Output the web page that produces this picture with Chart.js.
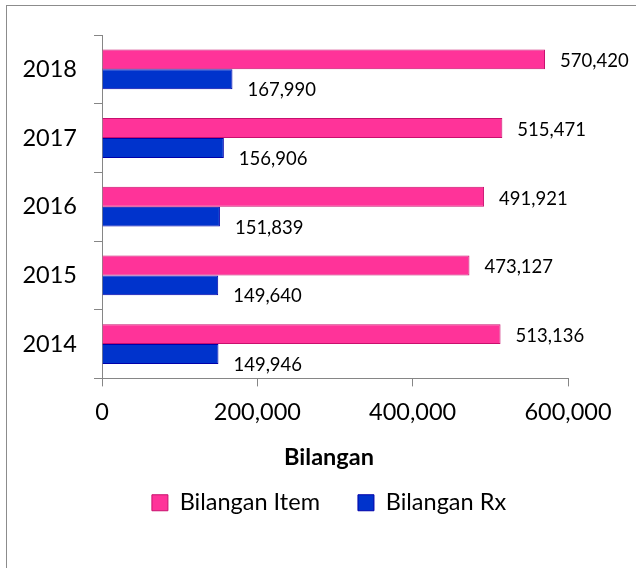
<!DOCTYPE html>
<html>
<head>
<meta charset="utf-8">
<script src="https://cdn.jsdelivr.net/npm/chart.js@4.4.1/dist/chart.umd.min.js"></script>
<style>
  html, body { margin: 0; padding: 0; background: #ffffff; }
  #wrap { position: relative; width: 636px; height: 568px; }
</style>
</head>
<body>
<div id="wrap"><canvas id="c" width="636" height="568"></canvas></div>
<script>
const years = ['2018', '2017', '2016', '2015', '2014'];
const bilanganItem = [570420, 515471, 491921, 473127, 513136];
const bilanganRx = [167990, 156906, 151839, 149640, 149946];
const xTicks = [0, 200000, 400000, 600000];
const seriesNames = ['Bilangan Item', 'Bilangan Rx'];
const axisTitle = 'Bilangan';

const FONT = 'Lato';
const fmt = v => Number(v).toLocaleString('en-US');

const borderPlugin = {
  id: 'chartBorder',
  beforeDraw(chart) {
    const ctx = chart.ctx;
    ctx.save();
    ctx.fillStyle = '#ffffff';
    ctx.fillRect(0, 0, chart.width, chart.height);
    ctx.strokeStyle = '#8c8c8c';
    ctx.lineWidth = 1;
    ctx.strokeRect(6.5, 5.5, chart.width + 50, chart.height + 50);
    ctx.restore();
  }
};

const valueLabelPlugin = {
  id: 'valueLabels',
  afterDatasetsDraw(chart) {
    const ctx = chart.ctx;
    ctx.save();
    ctx.font = '18.5px ' + FONT;
    ctx.fillStyle = '#000000';
    ctx.textAlign = 'left';
    ctx.textBaseline = 'middle';
    chart.data.datasets.forEach((ds, di) => {
      const meta = chart.getDatasetMeta(di);
      meta.data.forEach((bar, i) => {
        const dy = di === 0 ? 2 : 11;
        ctx.fillText(fmt(ds.data[i]), bar.x + 15, bar.y + dy);
      });
    });
    ctx.restore();
  }
};

const axisColor = '#868686';

new Chart(document.getElementById('c'), {
  type: 'bar',
  data: {
    labels: years,
    datasets: [
      {
        label: seriesNames[0],
        data: bilanganItem,
        backgroundColor: '#FF3399',
        borderColor: '#C8106E',
        borderWidth: 1,
        categoryPercentage: 0.58,
        barPercentage: 1.0
      },
      {
        label: seriesNames[1],
        data: bilanganRx,
        backgroundColor: '#0033CC',
        borderColor: '#0000AA',
        borderWidth: 1,
        categoryPercentage: 0.58,
        barPercentage: 1.0
      }
    ]
  },
  options: {
    indexAxis: 'y',
    responsive: false,
    animation: false,
    devicePixelRatio: 1,
    layout: { padding: { left: 22, right: 0, top: 35, bottom: 43.5 } },
    scales: {
      x: {
        type: 'linear',
        min: 0,
        max: 600000,
        afterBuildTicks(scale) { scale.ticks = xTicks.map(v => ({ value: v })); },
        ticks: {
          font: { family: FONT, size: 23.5 },
          color: '#000000',
          padding: 12,
          maxRotation: 0,
          callback: v => fmt(v)
        },
        grid: { drawOnChartArea: false, drawTicks: true, tickLength: 8, color: axisColor },
        border: { display: true, color: axisColor }
      },
      y: {
        type: 'category',
        position: 'left',
        afterFit(scale) { scale.width = 80; },
        ticks: {
          font: { family: FONT, size: 23.5 },
          color: '#000000',
          padding: 17
        },
        grid: { drawOnChartArea: false, drawTicks: true, tickLength: 8, color: axisColor, offset: true },
        border: { display: true, color: axisColor }
      },
      yR: {
        type: 'category',
        position: 'right',
        labels: years,
        afterFit(scale) { scale.width = 68; },
        ticks: { display: false },
        grid: { display: false },
        border: { display: false }
      }
    },
    plugins: {
      title: {
        display: true,
        text: axisTitle,
        position: 'bottom',
        weight: 500,
        color: '#000000',
        font: { family: FONT, size: 23.5, weight: 'bold' },
        padding: { top: 4.5, bottom: -18.3 }
      },
      legend: {
        display: true,
        position: 'bottom',
        labels: {
          font: { family: FONT, size: 23.5 },
          color: '#000000',
          boxWidth: 16,
          boxHeight: 16,
          padding: 38
        }
      },
      tooltip: { enabled: false }
    }
  },
  plugins: [borderPlugin, valueLabelPlugin]
});
</script>
</body>
</html>
